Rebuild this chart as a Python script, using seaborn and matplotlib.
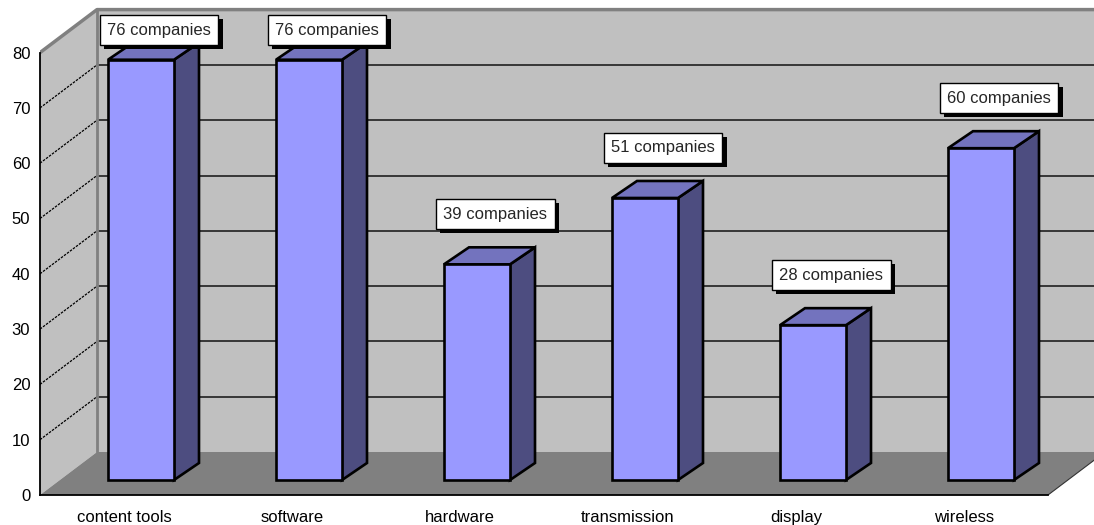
import numpy as np
import matplotlib
matplotlib.use("Agg")
import matplotlib.pyplot as plt
import matplotlib.patheffects as pe
from matplotlib.patches import Polygon
import seaborn as sns

sns.set_style("white")
plt.rcParams['font.family'] = ['Liberation Sans', 'DejaVu Sans']

# Dados
categorias = ["content tools", "software", "hardware", "transmission", "display", "wireless"]
empresas = [76, 76, 39, 51, 28, 60]
rotulos = [f"{v} companies" for v in empresas]
y_ticks = list(range(0, 90, 10))

# Geometria do "3D" (unidades de dados)
PX_X = 168.0            # pixels por categoria
PX_Y = 5.53             # pixels por unidade
DX, DY = 57 / PX_X, 43 / PX_Y           # profundidade total da caixa
OX, OY = 17 / PX_X, 15 / PX_Y           # recuo da face frontal das barras
BDX, BDY = 25 / PX_X, 17 / PX_Y         # profundidade das barras
n = len(categorias)
x_left, x_right = -0.5, n - 0.5

fig = plt.figure(figsize=(10.94, 5.25), dpi=100)
ax = fig.add_axes([40 / 1094, 30 / 525, 1054 / 1094, 495 / 525])

# Barras (face frontal)
sns.barplot(x=categorias, y=empresas, color="#9999FF", saturation=1, width=66 / PX_X,
            edgecolor="black", linewidth=1.9, ax=ax, zorder=4)

# Paredes e chão
ax.add_patch(Polygon([(x_left + DX, DY), (x_right + DX, DY), (x_right + DX, 80 + DY), (x_left + DX, 80 + DY)],
                     closed=True, facecolor="#C0C0C0", edgecolor="none", zorder=0))
ax.add_patch(Polygon([(x_left, 0), (x_left + DX, DY), (x_left + DX, 80 + DY), (x_left, 80)],
                     closed=True, facecolor="#C0C0C0", edgecolor="none", zorder=0))
ax.add_patch(Polygon([(x_left, 0), (x_right, 0), (x_right + DX, DY), (x_left + DX, DY)],
                     closed=True, facecolor="#808080", edgecolor="none", zorder=1))
ax.plot([x_right, x_right + DX], [0, DY], color="#333333", lw=0.8, zorder=1.5)

# Grades
for v in y_ticks[1:-1]:
    ax.plot([x_left + DX, x_right + DX], [v + DY, v + DY], color="#202020", lw=1.2, zorder=1.5)
    ax.plot([x_left, x_left + DX], [v, v + DY], color="black", lw=0.9, ls=(0, (2, 1)), zorder=1.5)
ax.plot([x_left, x_left + DX, x_right + DX], [80, 80 + DY, 80 + DY], color="#808080", lw=2.5, zorder=1.6)
ax.plot([x_left + DX, x_left + DX], [DY, 80 + DY], color="#808080", lw=2, zorder=1.6)

# Faces laterais e superiores + rótulos
for bar, texto in zip(ax.containers[0], rotulos):
    bar.set_x(bar.get_x() + OX)
    bar.set_y(OY)
    x0, x1 = bar.get_x(), bar.get_x() + bar.get_width()
    y0, top = OY, OY + bar.get_height()
    ax.add_patch(Polygon([(x1, y0), (x1 + BDX, y0 + BDY), (x1 + BDX, top + BDY), (x1, top)],
                         closed=True, facecolor="#4D4D80", edgecolor="black", lw=1.9, zorder=3.5))
    ax.add_patch(Polygon([(x0, top), (x0 + BDX, top + BDY), (x1 + BDX, top + BDY), (x1, top)],
                         closed=True, facecolor="#7373BE", edgecolor="black", lw=1.9, zorder=3.5))
    ly = min(top + 50 / PX_Y, 465 / PX_Y)
    t = ax.text((x0 + x1) / 2 + 18 / PX_X, ly, texto, ha="center", va="center", fontsize=12,
                zorder=6, bbox=dict(boxstyle="square,pad=0.45", facecolor="white", edgecolor="black", lw=1))
    t.get_bbox_patch().set_path_effects([
        pe.SimplePatchShadow(offset=(3, -3), shadow_rgbFace="black", alpha=1), pe.Normal()])

# Eixos
ax.set_xlim(x_left, x_left + 1054 / PX_X)
ax.set_ylim(0, 495 / PX_Y)
for s in ["top", "right"]:
    ax.spines[s].set_visible(False)
ax.spines["left"].set_bounds(0, 80)
ax.spines["bottom"].set_bounds(x_left, x_right)
for s in ["left", "bottom"]:
    ax.spines[s].set_color("black")
    ax.spines[s].set_linewidth(1.3)
    ax.spines[s].set_zorder(5)

ax.set_yticks(y_ticks)
ax.set_xticks(range(n))
ax.set_xticklabels(categorias)
ax.set_xticks(np.arange(x_left, n, 1), minor=True)
ax.tick_params(axis="x", which="major", length=0, pad=11, labelsize=12, colors="black")
ax.tick_params(axis="x", which="minor", length=5, width=1.2, direction="out", color="black")
ax.tick_params(axis="y", length=5, width=1.2, direction="out", pad=2, labelsize=12, colors="black")
ax.set_xlabel("")
ax.set_ylabel("")
ax.grid(False)

fig.savefig("out.png", dpi=100)
